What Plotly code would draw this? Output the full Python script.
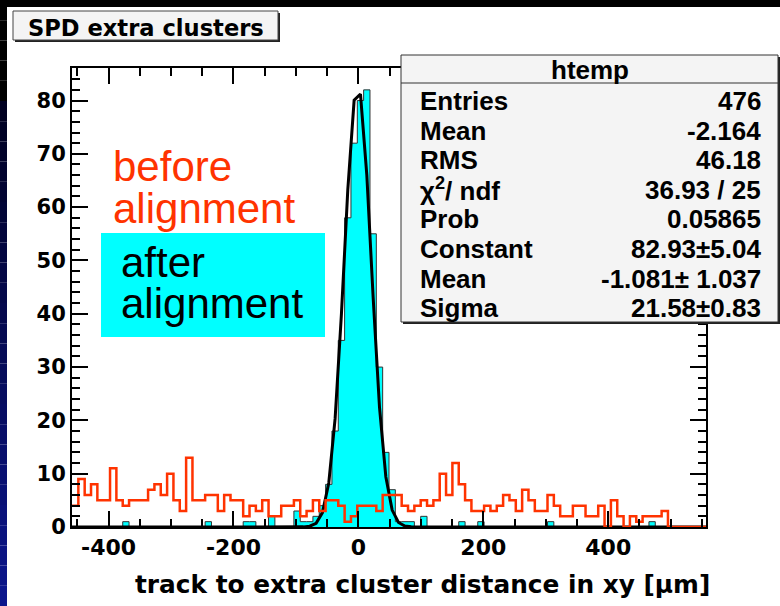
import numpy as np
import plotly.graph_objects as go

# ---- histogram binning (shared by both histograms) ----
x_min = -458.5
bin_width = 10.15
n_bins = 100

# counts per bin, "before alignment" (red outline)
before_counts = [
    4, 9, 6, 8, 5, 5, 11, 5, 4, 5,
    5, 5, 7, 8, 6, 10, 5, 3, 13, 5,
    5, 6, 6, 3, 6, 5, 5, 2, 4, 3,
    5, 2, 2, 4, 4, 5, 2, 3, 5, 3,
    5, 5, 4, 1, 2, 4, 4, 4, 3, 6,
    6, 6, 4, 3, 4, 5, 4, 5, 10, 6,
    12, 8, 5, 3, 3, 4, 3, 4, 6, 5,
    3, 7, 5, 3, 3, 6, 4, 2, 2, 4,
    4, 2, 2, 4, 0, 5, 2, 0, 2, 1,
    2, 2, 2, 3, 0, 0, 0, 0, 0, 0,
]

# counts per bin, "after alignment" (cyan filled, htemp)
after_counts = [
    0, 0, 0, 0, 0, 0, 0, 0, 1, 0,
    0, 0, 0, 0, 0, 0, 0, 0, 0, 0,
    0, 1, 0, 0, 0, 0, 0, 1, 1, 0,
    0, 2, 0, 0, 0, 3, 1, 1, 2, 4,
    8, 18, 35, 58, 72, 80, 82, 55, 30, 14,
    7, 1, 1, 1, 0, 2, 0, 0, 0, 0,
    0, 1, 0, 0, 1, 0, 0, 0, 0, 0,
    0, 0, 0, 0, 0, 1, 0, 0, 0, 0,
    0, 0, 0, 0, 0, 0, 0, 0, 0, 0,
    0, 1, 0, 0, 0, 0, 0, 0, 0, 0,
]

# gaussian fit result of htemp
fit_constant = 82.93
fit_mean = -1.081
fit_sigma = 21.58

stat_labels = ["Entries", "Mean", "RMS", "χ<sup>2</sup>/ ndf", "Prob",
               "Constant", "Mean", "Sigma"]
stat_values = ["476", "-2.164", "46.18", "36.93 / 25", "0.05865",
               "82.93±5.04", "-1.081± 1.037", "21.58±0.83"]

x_tick_values = [-400, -200, 0, 200, 400]
x_tick_text = ["-400", "-200", "0", "200", "400"]

y_max = 86.1

# ---- canvas geometry (pixels) ----
W, H = 780, 606
ML, MR, MT, MB = 72, 74, 68, 79
PW, PH = W - ML - MR, H - MT - MB


def px(x):
    return (x - ML) / PW


def py(y):
    return (H - MB - y) / PH


RED = "#ff3300"
CYAN = "#00ffff"
BOLD = "DejaVu Sans"
SANS = "Liberation Sans"

edges = x_min + bin_width * np.arange(n_bins + 1)
x_max = edges[-1]
centers = 0.5 * (edges[:-1] + edges[1:])


def step_path(counts, closed):
    xs = list(edges[:-1]) + [edges[-1]]
    ys = list(counts) + [counts[-1]]
    if closed:
        xs = [edges[0]] + xs + [edges[-1]]
        ys = [0] + ys + [0]
    return xs, ys


fig = go.Figure()

ax, ay = step_path(after_counts, True)
fig.add_trace(go.Scatter(x=ax, y=ay, mode="lines", line_shape="hv",
                         fill="tozeroy", fillcolor=CYAN,
                         line=dict(color="#333333", width=1),
                         hoverinfo="skip"))

# fit function drawn as a polyline sampled once per bin
fx = np.concatenate([[x_min], centers, [x_max]])
fy = fit_constant * np.exp(-0.5 * ((fx - fit_mean) / fit_sigma) ** 2)
fig.add_trace(go.Scatter(x=fx, y=fy, mode="lines",
                         line=dict(color="black", width=3),
                         hoverinfo="skip"))

bx, by = step_path(before_counts, False)
fig.add_trace(go.Scatter(x=bx, y=by, mode="lines", line_shape="hv",
                         line=dict(color=RED, width=2.5),
                         hoverinfo="skip"))

shapes = []
# slide border: black band on top, dark blue strip on the left
n_strip = 30
for i in range(n_strip):
    y0 = H * i / n_strip
    y1 = H * (i + 1) / n_strip
    t = max(0.0, (i / (n_strip - 1) - 0.15) / 0.85)
    col = "rgb(%d,%d,%d)" % (int(12 * t), int(22 * t), int(30 + 110 * t) if t > 0 else 0)
    shapes.append(dict(type="rect", xref="paper", yref="paper",
                       x0=px(0), x1=px(7), y0=py(y1), y1=py(y0),
                       line=dict(width=0), fillcolor=col, layer="above"))
shapes.append(dict(type="rect", xref="paper", yref="paper",
                   x0=px(0), x1=px(W), y0=py(7), y1=py(0),
                   line=dict(width=0), fillcolor="black", layer="above"))

# title box with shadow
shapes.append(dict(type="rect", xref="paper", yref="paper",
                   x0=px(15), x1=px(280), y0=py(42), y1=py(13),
                   line=dict(width=0), fillcolor="#222222"))
shapes.append(dict(type="rect", xref="paper", yref="paper",
                   x0=px(13), x1=px(278), y0=py(40), y1=py(11),
                   line=dict(color="#444444", width=1), fillcolor="#f4f4f4"))

# statistics box with shadow and header rule
shapes.append(dict(type="rect", xref="paper", yref="paper",
                   x0=px(403), x1=px(781), y0=py(324), y1=py(57),
                   line=dict(width=0), fillcolor="#222222"))
shapes.append(dict(type="rect", xref="paper", yref="paper",
                   x0=px(401), x1=px(778), y0=py(322), y1=py(55),
                   line=dict(color="#333333", width=1), fillcolor="#f4f4f4"))
shapes.append(dict(type="line", xref="paper", yref="paper",
                   x0=px(401), x1=px(778), y0=py(83), y1=py(83),
                   line=dict(color="#333333", width=1)))

# cyan label box
shapes.append(dict(type="rect", xref="paper", yref="paper",
                   x0=px(101), x1=px(325), y0=py(337), y1=py(233),
                   line=dict(width=0), fillcolor=CYAN))

ann = []


def text(x, y, s, size, color="black", xanchor="left", family=BOLD, bold=True):
    ann.append(dict(x=px(x), y=py(y), xref="paper", yref="paper", text=s,
                    showarrow=False, xanchor=xanchor, yanchor="middle",
                    font=dict(family=family, size=size, color=color,
                              weight="bold" if bold else "normal")))


text(146, 28, "SPD extra clusters", 22.6, xanchor="center")
text(590, 70, "htemp", 26, xanchor="center", family=SANS)
row_y = 101.0
for lab, val in zip(stat_labels, stat_values):
    text(418, row_y, lab, 26, family=SANS)
    text(763, row_y, val, 26, xanchor="right", family=SANS)
    row_y += 29.6

text(111, 166, "before", 42, color=RED, family=SANS, bold=False)
text(111, 208, "alignment", 42, color=RED, family=SANS, bold=False)
text(119, 262, "after", 42, family=SANS, bold=False)
text(119, 303, "alignment", 42, family=SANS, bold=False)

text(712, 584, "track to extra cluster distance in xy [μm]", 24.8, xanchor="right")

axis_common = dict(showgrid=False, zeroline=False, showline=True,
                   linecolor="black", linewidth=2, mirror="ticks",
                   ticks="inside", ticklen=16, tickwidth=1.5, tickcolor="black")

fig.update_layout(
    width=W, height=H,
    margin=dict(l=ML, r=MR, t=MT, b=MB, pad=0),
    paper_bgcolor="white", plot_bgcolor="white",
    showlegend=False,
    shapes=shapes, annotations=ann,
    xaxis=dict(range=[x_min, x_max], tickmode="array",
               tickvals=x_tick_values, ticktext=x_tick_text,
               minor=dict(dtick=50, tick0=0, ticks="inside", ticklen=8,
                          tickwidth=1.5, tickcolor="black"),
               tickfont=dict(family=BOLD, size=22, color="black", weight="bold"),
               **axis_common),
    yaxis=dict(range=[0, y_max], tickmode="linear", tick0=0, dtick=10,
               minor=dict(dtick=2, tick0=0, ticks="inside", ticklen=8,
                          tickwidth=1.5, tickcolor="black"),
               tickfont=dict(family=BOLD, size=21, color="black", weight="bold"),
               **axis_common),
)

fig.write_html("out.html")
